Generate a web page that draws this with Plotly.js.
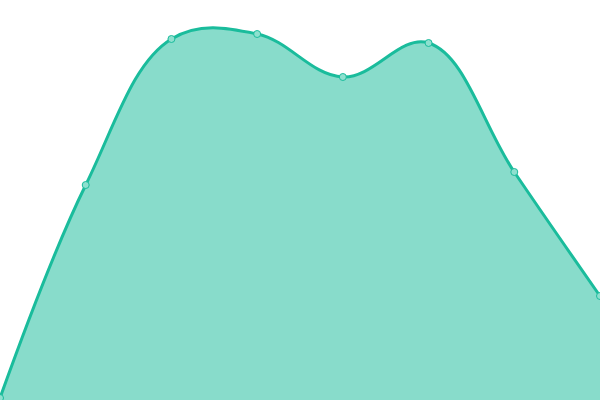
<!DOCTYPE html>
<html>
<head>
<meta charset="utf-8">
<script src="https://cdn.plot.ly/plotly-3.0.1.min.js"></script>
<style>
  html, body { margin: 0; padding: 0; background: #ffffff; }
  #chart { width: 600px; height: 400px; }
</style>
</head>
<body>
<div id="chart"></div>
<script>
// data
var xValues = [0, 1, 2, 3, 4, 5, 6, 7];
var yValues = [2, 215, 361, 366, 323, 357, 228, 104];

var trace = {
  x: xValues,
  y: yValues,
  type: "scatter",
  mode: "lines+markers",
  fill: "tozeroy",
  fillcolor: "rgba(26, 188, 156, 0.52)",
  line: { color: "#1abc9c", width: 3, shape: "spline", smoothing: 1.1 },
  marker: { size: 7, color: "#8ee0cf", line: { color: "#1abc9c", width: 1 } },
  cliponaxis: false,
  hoverinfo: "none"
};

var layout = {
  width: 600,
  height: 400,
  margin: { l: 0, r: 0, t: 0, b: 0 },
  paper_bgcolor: "#ffffff",
  plot_bgcolor: "#ffffff",
  showlegend: false,
  xaxis: { range: [0, 7], visible: false, fixedrange: true },
  yaxis: { range: [0, 400], visible: false, fixedrange: true }
};

Plotly.newPlot("chart", [trace], layout, { displayModeBar: false, staticPlot: true });
</script>
</body>
</html>
